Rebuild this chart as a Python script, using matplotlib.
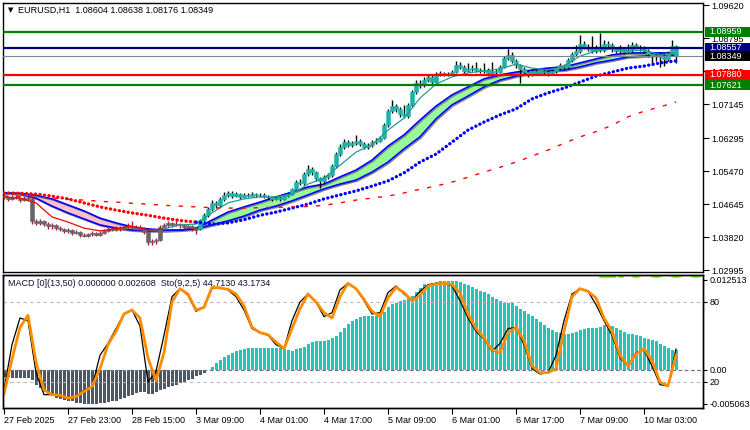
import numpy as np
import matplotlib
matplotlib.use("Agg")
import matplotlib.pyplot as plt
import matplotlib.patheffects as pe
from matplotlib.patches import Rectangle
from matplotlib.transforms import blended_transform_factory

plt.rcParams['font.family'] = ['Liberation Sans', 'DejaVu Sans']

# ---------------- data (hourly bars, EURUSD H1) ----------------
time_labels = ["27 Feb 2025", "27 Feb 23:00", "28 Feb 15:00", "3 Mar 09:00", "4 Mar 01:00",
               "4 Mar 17:00", "5 Mar 09:00", "6 Mar 01:00", "6 Mar 17:00", "7 Mar 09:00",
               "10 Mar 03:00"]

first_open = 1.0485
closes = [1.0482, 1.0478, 1.0484, 1.0481, 1.0476, 1.0480, 1.0478, 1.0422, 1.0418, 1.0422,
          1.0415, 1.0410, 1.0413, 1.0405, 1.0402, 1.0398, 1.0400, 1.0394, 1.0396, 1.0388,
          1.0386, 1.0390, 1.0392, 1.0389, 1.0393, 1.0398, 1.0404, 1.0401, 1.0406, 1.0403,
          1.0408, 1.0410, 1.0406, 1.0409, 1.0404, 1.0395, 1.0370, 1.0372, 1.0375, 1.0408,
          1.0412, 1.0418, 1.0414, 1.0416, 1.0412, 1.0408, 1.0410, 1.0405, 1.0402, 1.0425,
          1.0438, 1.0452, 1.0468, 1.0462, 1.0478, 1.0488, 1.0492, 1.0486, 1.0490, 1.0484,
          1.0488, 1.0486, 1.0490, 1.0487, 1.0489, 1.0484, 1.0482, 1.0478, 1.0480, 1.0477,
          1.0486, 1.0490, 1.0502, 1.0520, 1.0518, 1.0540, 1.0552, 1.0545, 1.0530, 1.0522,
          1.0532, 1.0538, 1.0560, 1.0590, 1.0608, 1.0620, 1.0612, 1.0618, 1.0622, 1.0616,
          1.0608, 1.0612, 1.0620, 1.0624, 1.0630, 1.0662, 1.0698, 1.0710, 1.0702, 1.0690,
          1.0685, 1.0712, 1.0745, 1.0768, 1.0762, 1.0775, 1.0782, 1.0770, 1.0790, 1.0792,
          1.0789, 1.0791, 1.0795, 1.0812, 1.0808, 1.0798, 1.0802, 1.0806, 1.0800, 1.0797,
          1.0800, 1.0794, 1.0798, 1.0795, 1.0808, 1.0830, 1.0838, 1.0822, 1.0812, 1.0802,
          1.0795, 1.0790, 1.0797, 1.0793, 1.0799, 1.0795, 1.0792, 1.0798, 1.0805, 1.0812,
          1.0808, 1.0825, 1.0840, 1.0848, 1.0865, 1.0858, 1.0852, 1.0848, 1.0855, 1.0850,
          1.0866, 1.0862, 1.0852, 1.0848, 1.0853, 1.0846, 1.0850, 1.0862, 1.0858, 1.0855,
          1.0848, 1.0840, 1.0835, 1.0838, 1.0832, 1.0828, 1.0842, 1.08604, 1.08349]
highs = [1.0489, 1.0486, 1.0488, 1.0487, 1.0484, 1.0485, 1.0484, 1.0482, 1.0428, 1.0427,
         1.0425, 1.0420, 1.0418, 1.0416, 1.0410, 1.0406, 1.0405, 1.0403, 1.0400, 1.0399,
         1.0393, 1.0394, 1.0397, 1.0396, 1.0398, 1.0402, 1.0409, 1.0408, 1.0411, 1.0410,
         1.0414, 1.0418, 1.0422, 1.0414, 1.0412, 1.0408, 1.0398, 1.0378, 1.0380, 1.0412,
         1.0418, 1.0423, 1.0421, 1.0422, 1.0419, 1.0416, 1.0415, 1.0413, 1.0409, 1.0429,
         1.0442, 1.0458, 1.0475, 1.0474, 1.0484, 1.0496, 1.0499, 1.0497, 1.0496, 1.0494,
         1.0492, 1.0493, 1.0495, 1.0494, 1.0493, 1.0492, 1.0488, 1.0486, 1.0484, 1.0484,
         1.0489, 1.0494, 1.0506, 1.0526, 1.0528, 1.0546, 1.0563, 1.0558, 1.0549, 1.0534,
         1.0537, 1.0544, 1.0566, 1.0596, 1.0615, 1.0627, 1.0626, 1.0624, 1.0638, 1.0628,
         1.0621, 1.0618, 1.0625, 1.0630, 1.0636, 1.0668, 1.0704, 1.0725, 1.0716, 1.0708,
         1.0714, 1.0718, 1.0750, 1.0776, 1.0775, 1.0784, 1.0789, 1.0787, 1.0795, 1.0797,
         1.0796, 1.0796, 1.0801, 1.0822, 1.0820, 1.0812, 1.0818, 1.0812, 1.0820, 1.0805,
         1.0818, 1.0806, 1.0820, 1.0803, 1.0814, 1.0835, 1.0852, 1.0845, 1.0828, 1.0816,
         1.0808, 1.0800, 1.0803, 1.0802, 1.0804, 1.0803, 1.0800, 1.0803, 1.0810, 1.0818,
         1.0816, 1.0830, 1.0846, 1.0862, 1.0888, 1.0872, 1.0866, 1.0885, 1.0862, 1.0893,
         1.0875, 1.0874, 1.0868, 1.0858, 1.0862, 1.0858, 1.0866, 1.0870, 1.0869, 1.0864,
         1.0860, 1.0852, 1.0846, 1.0844, 1.0843, 1.0840, 1.0848, 1.0875, 1.08638]
lows = [1.0478, 1.0474, 1.0475, 1.0477, 1.0471, 1.0473, 1.0474, 1.0416, 1.0412, 1.0414,
        1.0410, 1.0403, 1.0404, 1.0400, 1.0397, 1.0393, 1.0394, 1.0389, 1.0390, 1.0384,
        1.0382, 1.0383, 1.0386, 1.0385, 1.0386, 1.0390, 1.0395, 1.0397, 1.0398, 1.0399,
        1.0400, 1.0404, 1.0402, 1.0403, 1.0400, 1.0390, 1.0363, 1.0364, 1.0366, 1.0373,
        1.0405, 1.0409, 1.0409, 1.0410, 1.0406, 1.0403, 1.0404, 1.0398, 1.0390, 1.0400,
        1.0421, 1.0434, 1.0448, 1.0456, 1.0458, 1.0474, 1.0483, 1.0481, 1.0482, 1.0479,
        1.0480, 1.0482, 1.0483, 1.0483, 1.0484, 1.0480, 1.0478, 1.0474, 1.0475, 1.0473,
        1.0475, 1.0483, 1.0487, 1.0499, 1.0512, 1.0514, 1.0536, 1.0538, 1.0524, 1.0505,
        1.0518, 1.0528, 1.0534, 1.0556, 1.0586, 1.0603, 1.0607, 1.0608, 1.0614, 1.0610,
        1.0603, 1.0604, 1.0608, 1.0616, 1.0620, 1.0627, 1.0658, 1.0694, 1.0696, 1.0684,
        1.0680, 1.0681, 1.0708, 1.0741, 1.0756, 1.0758, 1.0770, 1.0765, 1.0767, 1.0786,
        1.0785, 1.0786, 1.0788, 1.0792, 1.0802, 1.0793, 1.0795, 1.0798, 1.0795, 1.0792,
        1.0793, 1.0786, 1.0790, 1.0785, 1.0792, 1.0805, 1.0826, 1.0817, 1.0806, 1.0768,
        1.0789, 1.0784, 1.0786, 1.0788, 1.0789, 1.0790, 1.0786, 1.0789, 1.0794, 1.0801,
        1.0803, 1.0804, 1.0821, 1.0836, 1.0844, 1.0852, 1.0847, 1.0843, 1.0844, 1.0845,
        1.0846, 1.0856, 1.0846, 1.0842, 1.0843, 1.0840, 1.0842, 1.0846, 1.0852, 1.0849,
        1.0842, 1.0834, 1.0812, 1.0822, 1.0808, 1.0810, 1.0822, 1.0836, 1.08176]

# moving averages read every 4 bars
fast_ma = [1.04828, 1.0480, 1.0468, 1.0433, 1.0420, 1.0405, 1.0398, 1.0403, 1.0410, 1.0400,
           1.0403, 1.0413, 1.0415, 1.0443, 1.0468, 1.0478, 1.0483, 1.0483, 1.0490, 1.0515,
           1.0530, 1.0562, 1.0595, 1.0613, 1.0650, 1.0680, 1.0730, 1.0765, 1.0783, 1.0793,
           1.0798, 1.0803, 1.0815, 1.0805, 1.0800, 1.0810, 1.0835, 1.0848, 1.0853, 1.0848,
           1.0850, 1.0838, 1.0840]
band_fast = [1.0493, 1.0490, 1.0480, 1.0460, 1.0443, 1.0428, 1.0413, 1.0405, 1.0400, 1.0398,
             1.0398, 1.0400, 1.0405, 1.0425, 1.0445, 1.0458, 1.0470, 1.0483, 1.0495, 1.0508,
             1.0515, 1.0533, 1.0550, 1.0575, 1.0610, 1.0638, 1.0675, 1.0710, 1.0738, 1.0758,
             1.0778, 1.0788, 1.0795, 1.0800, 1.0805, 1.0808, 1.0818, 1.0828, 1.0838, 1.0843,
             1.0843, 1.0843, 1.0843]
band_slow = [1.0493, 1.0492, 1.0487, 1.0478, 1.0463, 1.0448, 1.0430, 1.0418, 1.0408, 1.0403,
             1.0400, 1.0400, 1.0403, 1.0413, 1.0423, 1.0435, 1.0450, 1.0460, 1.0473, 1.0488,
             1.0503, 1.0515, 1.0525, 1.0545, 1.0570, 1.0603, 1.0633, 1.0678, 1.0713, 1.0735,
             1.0758, 1.0775, 1.0785, 1.0793, 1.0798, 1.0800, 1.0808, 1.0818, 1.0825, 1.0833,
             1.0835, 1.0838, 1.0838]
dotted_ma = [1.0493, 1.0492, 1.0490, 1.0485, 1.0478, 1.0468, 1.0458, 1.0450, 1.0443, 1.0437,
             1.0430, 1.0424, 1.0420, 1.0415, 1.0418, 1.0426, 1.0437, 1.0445, 1.0455, 1.0465,
             1.0478, 1.0488, 1.0498, 1.0510, 1.0523, 1.0543, 1.0570, 1.0590, 1.0620, 1.0650,
             1.0670, 1.0688, 1.0703, 1.0728, 1.0743, 1.0755, 1.0770, 1.0785, 1.0795, 1.0805,
             1.0810, 1.0818, 1.0823]
long_ma = [1.0485, 1.0484, 1.0482, 1.0480, 1.0477, 1.0475, 1.0472, 1.0470, 1.0467, 1.0465,
           1.0462, 1.0460, 1.0458, 1.0456, 1.0455, 1.0455, 1.0456, 1.0457, 1.0458, 1.0459,
           1.0462, 1.0468, 1.0475, 1.0480, 1.0485, 1.0493, 1.0502, 1.0510, 1.0520, 1.0532,
           1.0545, 1.0557, 1.0570, 1.0585, 1.0600, 1.0617, 1.0633, 1.0646, 1.0662, 1.0683,
           1.0697, 1.0708, 1.0720]

level_values = [1.08959, 1.08557, 1.08349, 1.07880, 1.07621]
level_colors = ['#008000', '#000080', '#778899', '#ff0000', '#008000']
box_colors = ['#008000', '#000080', '#000000', '#ff0000', '#008000']
price_ticks = [1.09620, 1.08795, 1.07970, 1.07145, 1.06295, 1.05470, 1.04645, 1.03820, 1.02995]

macd_hist = [-0.0010, -0.0010, -0.0011, -0.0011, -0.0011, -0.0011, -0.0011, -0.0014, -0.0020, -0.0024,
             -0.0029, -0.0032, -0.0035, -0.0037, -0.0039, -0.0040, -0.0041, -0.0042, -0.0044, -0.0044,
             -0.0045, -0.0045, -0.0045, -0.0045, -0.0044, -0.0044, -0.0043, -0.0042, -0.0041, -0.0039,
             -0.0037, -0.0035, -0.0033, -0.0031, -0.0030, -0.0030, -0.0032, -0.0032, -0.0030, -0.0027,
             -0.0025, -0.0023, -0.0022, -0.0020, -0.0018, -0.0016, -0.0014, -0.0012, -0.0009, -0.0007,
             -0.0004, -0.0001, 0.0003, 0.0008, 0.0012, 0.0016, 0.0019, 0.0022, 0.0024, 0.0026,
             0.0027, 0.0028, 0.0029, 0.0029, 0.0029, 0.0029, 0.0029, 0.0029, 0.0029, 0.0029,
             0.0027, 0.0026, 0.0025, 0.0027, 0.0028, 0.0030, 0.0033, 0.0036, 0.0038, 0.0038,
             0.0038, 0.0039, 0.0041, 0.0044, 0.0050, 0.0055, 0.0060, 0.0064, 0.0067, 0.0069,
             0.0070, 0.0070, 0.0070, 0.0070, 0.0072, 0.0076, 0.0082, 0.0086, 0.0088, 0.0090,
             0.0091, 0.0094, 0.0097, 0.0102, 0.0108, 0.0112, 0.0113, 0.0114, 0.0115, 0.0116,
             0.0116, 0.0116, 0.0116, 0.0116, 0.0115, 0.0113, 0.0111, 0.0109, 0.0106, 0.0104,
             0.0102, 0.0099, 0.0096, 0.0093, 0.0090, 0.0088, 0.0088, 0.0088, 0.0084, 0.0080,
             0.0077, 0.0073, 0.0070, 0.0066, 0.0062, 0.0058, 0.0055, 0.0052, 0.0050, 0.0048,
             0.0047, 0.0047, 0.0048, 0.0050, 0.0052, 0.0054, 0.0055, 0.0055, 0.0055, 0.0056,
             0.0058, 0.0058, 0.0057, 0.0055, 0.0052, 0.0049, 0.0047, 0.0047, 0.0046, 0.0044,
             0.0042, 0.0040, 0.0039, 0.0037, 0.0034, 0.0031, 0.0028, 0.0026, 0.0026]

# stochastic read every 2 bars
sto_main = [14, 48, 68, 66, 27, 10.5, 10.5, 9.5, 8, 9,
            14, 16.5, 40, 49, 60, 71, 74, 62, 20, 28,
            55, 84, 90, 85, 73, 76, 90, 91, 89, 84,
            74, 60, 57, 55, 48, 45, 66, 80, 86, 80,
            69, 72, 89, 94, 90, 81, 71, 72, 87, 92,
            86, 81, 88, 93, 94, 94, 92, 81, 68, 58,
            52, 43, 49, 60, 61, 48, 30, 26, 27, 40,
            66, 86, 90, 88, 78, 66, 55, 38, 32, 42,
            44, 32, 18, 17, 44.7]
sto_signal = [11, 37, 61, 70, 35, 14, 10.5, 10, 8, 9,
              13, 16.5, 30, 48, 58, 71, 74, 68, 38, 21,
              42, 80, 90, 86, 74, 76, 91, 90.5, 89.5, 86,
              77, 61, 57, 55.5, 50, 45, 60, 75, 86, 80,
              72, 68, 84, 94, 90, 82, 73, 69, 83, 91,
              87, 81, 85, 92, 93.5, 94, 93, 87, 71, 60,
              53, 44, 42, 57, 61, 51, 32, 27, 27, 30,
              58, 84, 90, 88, 83, 68, 58, 40, 32, 41,
              45, 36, 20, 17, 40]

# ---------------- figure ----------------
W, H = 750, 430
FS = 6.5
fig = plt.figure(figsize=(7.5, 4.3), dpi=100)
fig.patch.set_facecolor('white')


def rect(x0, y0, x1, y1):
    return [x0 / W, 1 - y1 / H, (x1 - x0) / W, (y1 - y0) / H]


ax = fig.add_axes(rect(3, 3, 703, 272))
ax2 = fig.add_axes(rect(3, 274.5, 703, 408))
ax3 = ax2.twinx()

n = len(closes)
bars = np.arange(n)
o = np.array([first_open] + closes[:-1])
c = np.array(closes)
h = np.array(highs)
l = np.array(lows)
idx4 = np.arange(0, n, 4)
idx2 = np.arange(0, n, 2)

# band fill
fa = np.array(band_fast)
sl = np.array(band_slow)
ax.fill_between(idx4, fa, sl, where=fa >= sl, interpolate=True, color='#98fb98', lw=0, zorder=1)
ax.fill_between(idx4, fa, sl, where=fa < sl, interpolate=True, color='#ffc0cb', lw=0, zorder=1)
shadow = [pe.SimpleLineShadow(offset=(0.8, -0.8), shadow_color='#808080', alpha=0.9), pe.Normal()]
ax.plot(idx4, fa, color='#0000ff', lw=1.2, zorder=2, path_effects=shadow)
ax.plot(idx4, sl, color='#0000ff', lw=1.2, zorder=2, path_effects=shadow)

# candles
down = bars < 49
body_col = np.where(down, '#666666', '#20b2aa')
wick_col = np.where(down, '#a3163f', '#000000')
ax.vlines(bars, l, h, colors=wick_col, lw=1.0, zorder=3)
bottoms = np.minimum(o, c)
heights = np.maximum(np.abs(c - o), 0.00008)
ax.bar(bars, heights, bottom=bottoms, width=0.8, color=body_col, edgecolor=body_col,
       lw=0.4, zorder=3.2)

# fast MA
ax.plot(idx4[:11], fast_ma[:11], color='#ff0000', lw=0.9, zorder=4)
ax.plot(idx4[10:], fast_ma[10:], color='#1f9e8f', lw=0.9, zorder=4)

# dotted MA
dot_style = dict(lw=2.4, linestyle=(0, (0.05, 1.3)), dash_capstyle='round', zorder=4)
ax.plot(idx4[:13], dotted_ma[:13], color='#ff0000', **dot_style)
ax.plot(idx4[12:], dotted_ma[12:], color='#0000ff', **dot_style)

# long dashed MA
ax.plot(idx4, long_ma, color='#ff0000', lw=1.0, linestyle=(0, (3, 6)), zorder=4)

# horizontal levels
for v, col in zip(level_values, level_colors):
    ax.axhline(v, color=col, lw=0.8 if col == '#778899' else 1.6, zorder=5)

trans = blended_transform_factory(ax.transAxes, ax.transData)
half_h = 4.8 / 4000.0
for v, bc in zip(level_values, box_colors):
    ax.add_patch(Rectangle((1.0 + 2 / 700, v - half_h), 46 / 700, 2 * half_h, transform=trans,
                           facecolor=bc, edgecolor='none', clip_on=False, zorder=9))
    ax.text(1.0 + 6 / 700, v, f"{v:.5f}", transform=trans, ha='left', va='center',
            color='white', fontsize=FS, clip_on=False, zorder=10)

ax.set_xlim(-0.25, 174.75)
ax.set_ylim(1.029525, 1.096775)
ax.yaxis.tick_right()
ax.set_yticks(price_ticks)
ax.set_yticklabels([f"{t:.5f}" for t in price_ticks])
ax.tick_params(axis='y', direction='out', length=4, width=0.8, labelsize=FS, pad=2, colors='black')
ax.tick_params(axis='x', bottom=False, labelbottom=False)
for s in ax.spines.values():
    s.set_color('black')
    s.set_linewidth(1)

fig.text(8 / W, 1 - 10 / H, "\u25BC", fontsize=5, family='DejaVu Sans', va='center', ha='left')
fig.text(18 / W, 1 - 10 / H, "EURUSD,H1  1.08604 1.08638 1.08176 1.08349", fontsize=FS,
         va='center', ha='left', color='black')

# ---------------- indicator panel ----------------
hist = np.array(macd_hist)
ax2.bar(bars, hist, width=0.75, color=np.where(hist >= 0, '#26c3b9', '#4e5864'), lw=0, zorder=2)
ax2.axhline(0, color='#6a7a8a', lw=0.9, dashes=(3, 2), zorder=3)
ax2.set_ylim(-0.005063, 0.012513)
ax2.set_xlim(-0.25, 174.75)
ax2.yaxis.tick_right()
ax2.set_yticks([0.011847, 0.0, -0.00453])
ax2.set_yticklabels(['0.012513', '0.00', '-0.005063'])
ax2.tick_params(axis='y', direction='out', length=3, width=0.8, labelsize=FS, pad=1.5)
ax2.set_xticks(np.arange(0, n, 16))
ax2.set_xticklabels(time_labels, ha='left')
ax2.tick_params(axis='x', direction='out', length=4, width=0.8, labelsize=FS, pad=2)

ax2.text((597 - 3) / 700, (408 - 278.5) / 133.5, "1.0835", transform=ax2.transAxes, fontsize=26,
         fontweight='bold', color='#7cfc00', va='baseline', ha='left', clip_on=True, zorder=1)
ax2.text((8 - 3) / 700, (408 - 283) / 133.5,
         "MACD [0](13,50) 0.000000 0.002608  Sto(9,2,5) 44.7130 43.1734",
         transform=ax2.transAxes, fontsize=FS, va='center', ha='left', color='#101030', zorder=5)

ax3.set_ylim(0.5, 100.6)
ax3.axhline(80, color='#b8b8b8', lw=0.8, dashes=(3, 3))
ax3.axhline(20, color='#b8b8b8', lw=0.8, dashes=(3, 3))
ax3.plot(idx2, sto_main, color='black', lw=0.9)
ax3.plot(idx2, sto_signal, color='#ff8c00', lw=2.0)
ax3.set_yticks([80, 20])
ax3.set_yticklabels(['80', '20'])
ax3.tick_params(axis='y', direction='out', length=3, width=0.8, labelsize=FS, pad=1.5)
for a in (ax2, ax3):
    for s in a.spines.values():
        s.set_color('black')
        s.set_linewidth(1)

fig.savefig('out.png', dpi=100)
